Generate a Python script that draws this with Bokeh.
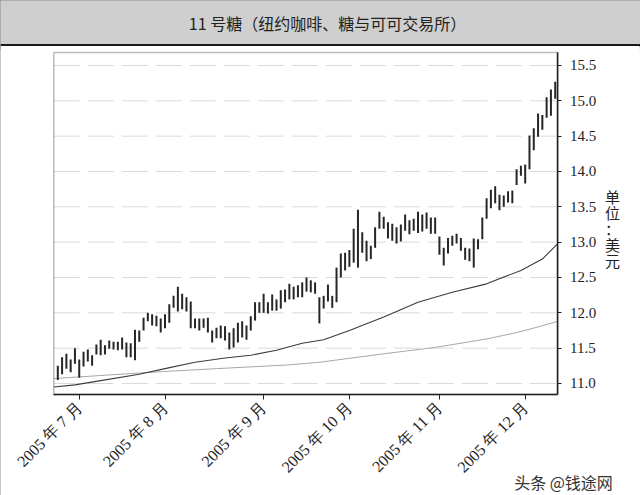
import math
from bokeh.plotting import figure
from bokeh.models import (FixedTicker, Label, Range1d, ColumnDataSource,
                          PrintfTickFormatter, BoxAnnotation)
from bokeh.layouts import column
from bokeh.embed import file_html
from bokeh.resources import INLINE
from bokeh.core.properties import value

# ---------------- data ----------------
title_text = "11 号糖（纽约咖啡、糖与可可交易所）"

lows = [11.05, 11.13, 11.21, 11.16, 11.28, 11.08, 11.24, 11.31, 11.25, 11.41,
        11.40, 11.41, 11.49, 11.48, 11.47, 11.48, 11.37, 11.37, 11.33, 11.59,
        11.75, 11.88, 11.82, 11.81, 11.72, 11.78, 11.86, 12.07, 12.02, 12.05,
        12.02, 11.78, 11.78, 11.75, 11.79, 11.72, 11.58, 11.64, 11.64, 11.61,
        11.48, 11.51, 11.58, 11.65, 11.62, 11.75, 11.89, 12.00, 12.00, 11.99,
        12.03, 12.03, 12.06, 12.15, 12.19, 12.19, 12.22, 12.22, 12.30, 12.29,
        12.27, 11.85, 12.06, 12.16, 12.07, 12.15, 12.50, 12.60, 12.65, 12.71,
        12.64, 12.85, 12.73, 12.76, 12.92, 13.19, 13.19, 13.05, 13.02, 12.98,
        13.01, 13.16, 13.11, 13.16, 13.13, 13.15, 13.19, 13.12, 13.12, 12.82,
        12.67, 12.84, 12.95, 12.98, 12.88, 12.75, 12.73, 12.64, 12.90, 13.04,
        13.33, 13.48, 13.55, 13.45, 13.50, 13.56, 13.55, 13.81, 13.94, 13.83,
        14.03, 14.30, 14.49, 14.59, 14.76, 14.79, 15.03]

highs = [11.25, 11.37, 11.42, 11.34, 11.50, 11.34, 11.45, 11.48, 11.40, 11.55,
         11.62, 11.54, 11.61, 11.59, 11.59, 11.65, 11.58, 11.57, 11.76, 11.75,
         11.93, 12.00, 11.98, 11.96, 11.92, 11.98, 12.12, 12.24, 12.37, 12.27,
         12.22, 12.16, 11.92, 11.92, 11.92, 11.93, 11.75, 11.79, 11.82, 11.81,
         11.72, 11.78, 11.86, 11.88, 11.82, 11.95, 12.15, 12.15, 12.27, 12.15,
         12.26, 12.19, 12.32, 12.33, 12.41, 12.37, 12.39, 12.43, 12.50, 12.46,
         12.43, 12.22, 12.24, 12.40, 12.24, 12.64, 12.84, 12.85, 12.89, 13.19,
         13.46, 13.14, 13.02, 12.95, 13.21, 13.43, 13.36, 13.28, 13.26, 13.21,
         13.25, 13.39, 13.31, 13.33, 13.43, 13.39, 13.42, 13.35, 13.35, 13.08,
         12.92, 13.06, 13.09, 13.12, 13.06, 12.92, 12.91, 13.05, 13.04, 13.35,
         13.62, 13.74, 13.79, 13.67, 13.66, 13.72, 13.73, 14.03, 14.08, 14.10,
         14.51, 14.61, 14.82, 14.80, 15.05, 15.16, 15.27]

# moving averages read at sample bars (bar index, price)
ma_fast_idx = [-0.93, 4, 10, 19, 25, 32, 39, 45, 51, 57, 62, 68, 76, 84, 92, 100, 108, 113, 116.6]
ma_fast_val = [10.95, 10.98, 11.04, 11.13, 11.21, 11.30, 11.36, 11.40, 11.47, 11.57,
               11.62, 11.75, 11.94, 12.15, 12.29, 12.41, 12.60, 12.76, 12.98]
ma_slow_idx = [-0.93, 22, 37, 53, 61, 76, 88, 100, 107, 112, 116.6]
ma_slow_val = [11.07, 11.16, 11.21, 11.26, 11.30, 11.42, 11.51, 11.63, 11.72, 11.80, 11.88]

# first bar of each month (bar index) and its label
month_idx = [5, 25, 48, 68, 89, 109]
month_labels = ["2005 年 7 月", "2005 年 8 月", "2005 年 9 月",
                "2005 年 10 月", "2005 年 11 月", "2005 年 12 月"]

y_ticks = [11.0, 11.5, 12.0, 12.5, 13.0, 13.5, 14.0, 14.5, 15.0, 15.5]
unit_chars = ["单", "位", "：", "美", "元"]
watermark = "头条 @钱途网"

# ---------------- layout constants ----------------
W = 640
TITLE_H = 46
MAIN_H = 449
BOX_X = (-0.93, 116.65)     # plot box in bar-index units
BOX_Y = (10.844, 15.684)    # plot box in price units

# ---------------- title bar ----------------
head = figure(width=W, height=TITLE_H, x_range=Range1d(0, 1), y_range=Range1d(0, 1),
              x_axis_type=None, y_axis_type=None, toolbar_location=None,
              output_backend="svg", min_border=0,
              background_fill_color="#cfcfcf", border_fill_color="#cfcfcf",
              outline_line_color=None)
head.text(x=[0.511], y=[0.52], text=[title_text], text_font=value("Noto Sans CJK SC"),
          text_font_size="16px", text_color="#222222", text_align="center",
          text_baseline="middle")
head.segment(x0=[0], x1=[1], y0=[0.025], y1=[0.025], line_color="#1a1a1a", line_width=2.5)

# ---------------- main chart ----------------
p = figure(width=W, height=MAIN_H,
           x_range=Range1d(-13.363, 135.89), y_range=Range1d(9.415, 15.726),
           y_axis_location="right", toolbar_location=None, output_backend="svg",
           min_border_left=0, min_border_right=0, min_border_top=3, min_border_bottom=0,
           background_fill_color="white", border_fill_color="white",
           outline_line_color=None)

# horizontal grid inside the plot box
p.segment(x0=[BOX_X[0]] * len(y_ticks), x1=[BOX_X[1]] * len(y_ticks),
          y0=y_ticks, y1=y_ticks, line_color="#dadada", line_width=1, line_dash="26 8")

idx = list(range(len(highs)))
src = ColumnDataSource(dict(x=idx, low=lows, high=highs))

p.line(ma_slow_idx, ma_slow_val, line_color="#a8a8a8", line_width=1)
p.line(ma_fast_idx, ma_fast_val, line_color="#3c3c3c", line_width=1.1)
p.segment(x0="x", x1="x", y0="low", y1="high", source=src,
          line_color="#262626", line_width=2)

p.add_layout(BoxAnnotation(left=BOX_X[0], right=BOX_X[1], bottom=BOX_Y[0], top=BOX_Y[1],
                           fill_alpha=0, line_color="#222222", line_width=1.5))

# axes drawn at the plot box edges
p.xaxis.fixed_location = BOX_Y[0]
p.xaxis.bounds = BOX_X
p.yaxis.fixed_location = BOX_X[1]
p.yaxis.bounds = BOX_Y
p.xaxis.ticker = FixedTicker(ticks=month_idx)
p.xaxis.major_label_overrides = {k: v for k, v in zip(month_idx, month_labels)}
p.xaxis.major_label_orientation = math.pi / 4
p.yaxis.ticker = FixedTicker(ticks=y_ticks)
p.yaxis.formatter = PrintfTickFormatter(format="%.1f")
for ax in (p.xaxis, p.yaxis):
    ax.axis_line_color = "#222222"
    ax.axis_line_width = 1.5
    ax.major_tick_line_color = "#222222"
    ax.major_tick_in = 0
    ax.minor_tick_line_color = None
    ax.major_label_text_font = "Liberation Serif"
    ax.major_label_text_color = "#222222"
p.xaxis.major_label_text_font_size = "16px"
p.yaxis.major_label_text_font_size = "15px"
p.xaxis.major_tick_out = 5
p.yaxis.major_tick_out = 4
p.yaxis.major_label_standoff = 8
p.grid.visible = False

# unit label, stacked vertically to the right of the axis (frame origin = canvas bottom-left)
for k, ch in enumerate(unit_chars):
    p.add_layout(Label(x=612, y=299 - 16 * k, x_units="screen", y_units="screen",
                       text=ch, text_align="center", text_baseline="middle",
                       text_font="Noto Sans CJK SC", text_font_size="15px",
                       text_color="#222222"))

p.add_layout(Label(x=563, y=14, x_units="screen", y_units="screen", text=watermark,
                   text_align="center", text_baseline="middle",
                   text_font="Noto Sans CJK SC", text_font_size="16px",
                   text_color="#333333"))

layout = column(head, p, spacing=0,
                styles={"outline": "1px solid #8a8a8a", "outline-offset": "-1px"})
open("out.html", "w").write(file_html(layout, INLINE))
